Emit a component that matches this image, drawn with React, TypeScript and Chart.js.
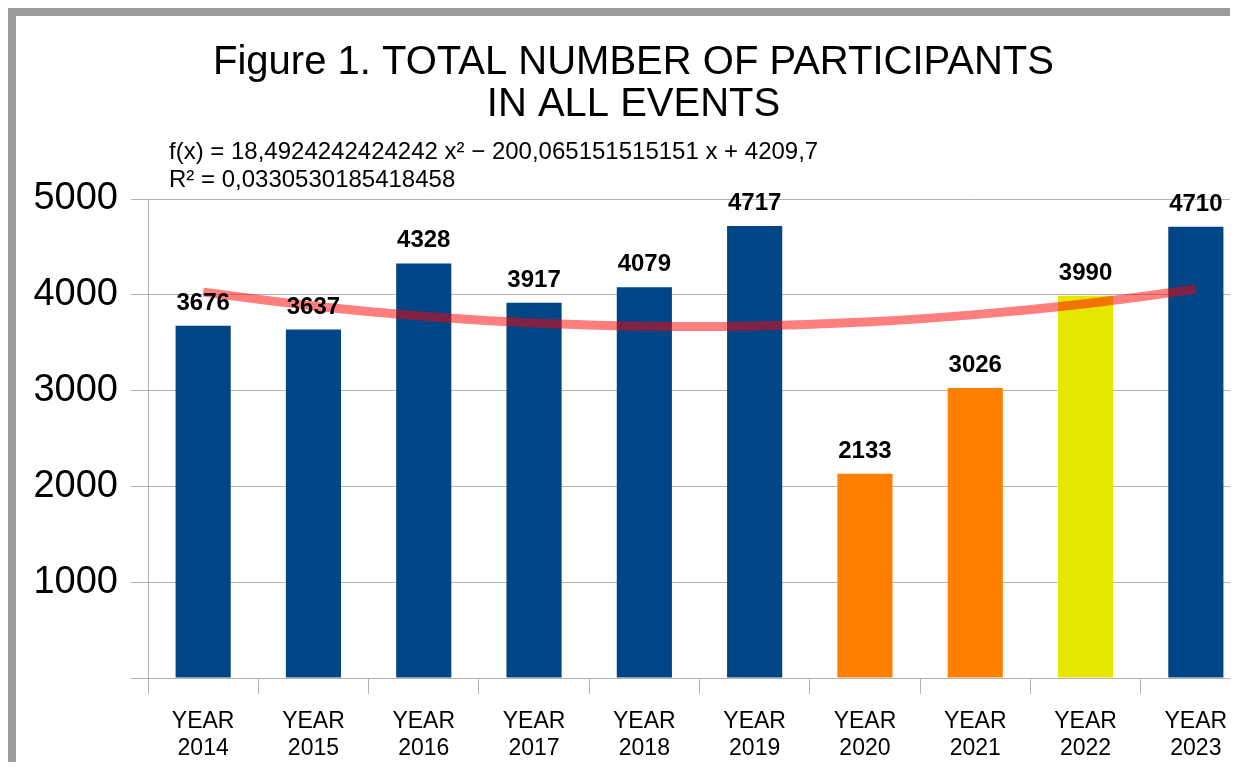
import React, { useEffect, useRef } from 'react';
import { Chart, registerables } from 'chart.js';

Chart.register(...registerables);

const categories: string[][] = [
  ['YEAR', '2014'], ['YEAR', '2015'], ['YEAR', '2016'], ['YEAR', '2017'], ['YEAR', '2018'],
  ['YEAR', '2019'], ['YEAR', '2020'], ['YEAR', '2021'], ['YEAR', '2022'], ['YEAR', '2023'],
];
const participants = [3676, 3637, 4328, 3917, 4079, 4717, 2133, 3026, 3990, 4710];
const barColors = [
  '#004586', '#004586', '#004586', '#004586', '#004586', '#004586',
  '#ff8000', '#ff8000', '#e6e600', '#004586',
];
// polynomial trend line values at each year (from the equation shown on the chart)
const trendValues = [4028, 3884, 3776, 3705, 3672, 3675, 3715, 3793, 3907, 4058];
const titleLines = ['Figure 1. TOTAL NUMBER OF PARTICIPANTS', 'IN ALL EVENTS'];
const equationLines = [
  'f(x) = 18,4924242424242 x² − 200,065151515151 x + 4209,7',
  'R² = 0,0330530185418458',
];
const yMin = 0;
const yMax = 5000;
const yStep = 1000;

const FONT = "'Liberation Sans', Arial, sans-serif";

export default function App() {
  const ref = useRef<HTMLCanvasElement | null>(null);

  useEffect(() => {
    if (!ref.current) return;

    const labelPlugin = {
      id: 'valueLabels',
      afterDatasetsDraw(chart: any) {
        const ctx = chart.ctx;
        const meta = chart.getDatasetMeta(1);
        ctx.save();
        ctx.font = `bold 24px ${FONT}`;
        ctx.fillStyle = '#000';
        ctx.textAlign = 'center';
        ctx.textBaseline = 'alphabetic';
        meta.data.forEach((el: any, i: number) => {
          ctx.fillText(String(participants[i]), el.x, el.y - 16);
        });
        ctx.restore();
      },
      afterDraw(chart: any) {
        const ctx = chart.ctx;
        ctx.save();
        ctx.font = `24px ${FONT}`;
        ctx.fillStyle = '#000';
        ctx.textAlign = 'left';
        ctx.textBaseline = 'alphabetic';
        ctx.fillText(equationLines[0], 153, 143);
        ctx.fillText(equationLines[1], 153, 171);
        ctx.restore();
      },
    };

    const chart = new Chart(ref.current, {
      type: 'bar',
      data: {
        labels: categories,
        datasets: [
          {
            type: 'line',
            label: 'Trend',
            data: trendValues,
            borderColor: 'rgba(255,0,0,0.5)',
            borderWidth: 9,
            pointRadius: 0,
            tension: 0.4,
            fill: false,
            borderCapStyle: 'butt',
            order: 0,
          } as any,
          {
            type: 'bar',
            label: 'Participants',
            data: participants,
            backgroundColor: barColors,
            borderWidth: 0,
            barPercentage: 0.5,
            categoryPercentage: 1,
            order: 1,
          },
        ],
      },
      options: {
        animation: false,
        responsive: false,
        devicePixelRatio: 1,
        layout: { padding: { left: 0, right: 3, top: 0, bottom: 0 } },
        plugins: {
          legend: { display: false },
          tooltip: { enabled: false },
          title: {
            display: true,
            text: titleLines,
            color: '#000',
            font: { family: FONT, size: 40, weight: 'normal', lineHeight: 1.05 },
            padding: { top: 26, bottom: 73 },
          },
        },
        scales: {
          x: {
            grid: {
              display: true,
              drawOnChartArea: false,
              drawTicks: true,
              tickLength: 16,
              color: '#b3b3b3',
              offset: true,
            },
            border: { display: true, color: '#b3b3b3' },
            ticks: {
              color: '#000',
              font: { family: FONT, size: 23, lineHeight: 1.17 },
              padding: 14,
              maxRotation: 0,
              autoSkip: false,
            },
            afterFit: (s: any) => { s.height = 90; },
          },
          y: {
            min: yMin,
            max: yMax,
            grid: { color: '#b3b3b3', tickLength: 17, drawTicks: true },
            border: { display: true, color: '#b3b3b3' },
            ticks: {
              stepSize: yStep,
              color: '#000',
              font: { family: FONT, size: 38 },
              padding: 13,
              callback: (v: any) => (v === 0 ? '' : String(v)),
            },
            afterFit: (s: any) => { s.width = 132; },
          },
        },
      },
      plugins: [labelPlugin],
    });

    return () => chart.destroy();
  }, []);

  return (
    <div
      style={{
        position: 'relative',
        width: 1222,
        height: 752,
        borderTop: '8px solid #9b9b9b',
        borderLeft: '8px solid #9b9b9b',
        borderBottom: '2px solid #c4c4c4',
        overflow: 'hidden',
        marginBottom: -8,
        background: '#fff',
      }}
    >
      <canvas
        ref={ref}
        width={1238}
        height={752}
        style={{ position: 'absolute', left: 0, top: 0, width: 1238, height: 752 }}
      />
    </div>
  );
}
